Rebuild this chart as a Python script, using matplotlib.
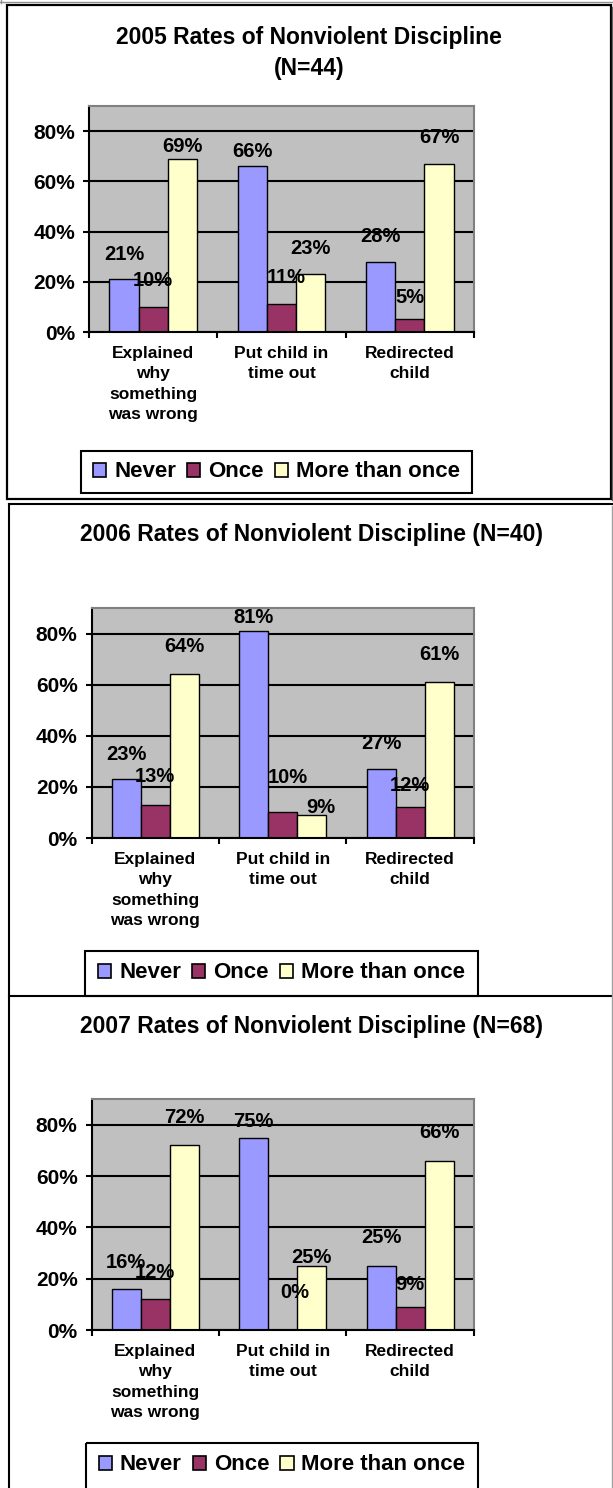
import matplotlib
matplotlib.use("Agg")
import matplotlib.pyplot as plt
from matplotlib.patches import Rectangle, Patch
from matplotlib.lines import Line2D
import numpy as np

plt.rcParams['font.family'] = ['Liberation Sans', 'DejaVu Sans']
plt.rcParams['font.weight'] = 'bold'

# ---------------- data ----------------
categories = ["Explained\nwhy\nsomething\nwas wrong", "Put child in\ntime out", "Redirected\nchild"]
series_names = ["Never", "Once", "More than once"]
titles = ["2005 Rates of Nonviolent Discipline\n(N=44)",
          "2006 Rates of Nonviolent Discipline (N=40)",
          "2007 Rates of Nonviolent Discipline (N=68)"]

never_2005 = [21, 66, 28]
once_2005 = [10, 11, 5]
more_2005 = [69, 23, 67]

never_2006 = [23, 81, 27]
once_2006 = [13, 10, 12]
more_2006 = [64, 9, 61]

never_2007 = [16, 75, 25]
once_2007 = [12, 0, 9]
more_2007 = [72, 25, 66]

ytick_values = [0, 20, 40, 60, 80]

panels_data = [
    [never_2005, once_2005, more_2005],
    [never_2006, once_2006, more_2006],
    [never_2007, once_2007, more_2007],
]

# ---------------- style / layout ----------------
W, H = 613, 1488
colors = ["#9999FF", "#993366", "#FFFFCC"]
plot_face = "#C0C0C0"

# plot rectangles in pixels (x0, y0, x1, y1), y from top
plot_boxes = [(89, 106, 474, 332), (91.5, 608, 474, 838), (91.5, 1099, 474, 1330)]
title_pos = [(309, 53), (312, 534), (312, 1027)]
legend_boxes = [(81, 451, 472, 493), (85, 951, 478, 996), (86, 1443, 478, 1490)]

# label lift above bar top (px) per panel, per series, per category
label_lift = [
    [[24.5, 15, 25], [26, 26.5, 22], [12.5, 26, 26]],
    [[25, 13.5, 26], [28, 35, 22], [28, 8, 28]],
    [[26, 16, 28], [27, 37, 22], [28, 8, 28]],
]
label_shift = [
    [[0, 0, 0], [0, 5, 0], [0, 0, 0]],
    [[0, 0, 0], [0, 5, 0], [0, 9, 0]],
    [[0, 0, 0], [0, 12, 0], [0, 0, 0]],
]

fig = plt.figure(figsize=(W / 100, H / 100), dpi=100)

# overlay for frames
ov = fig.add_axes([0, 0, 1, 1], zorder=-5)
ov.set_xlim(0, W)
ov.set_ylim(H, 0)
ov.axis('off')


def line(x, y, c='black', lw=1.5):
    ov.add_line(Line2D(x, y, color=c, lw=lw, solid_capstyle='projecting'))


# page lines
line([0, W], [2, 2], c='#909090', lw=1)
line([1, 1], [0, 3], c='#909090', lw=1)
# box 1
ov.add_patch(Rectangle((7, 5), 604, 494, fill=False, ec='black', lw=1.6))
line([612, 612], [7, 500], c='#606060', lw=1)
# panel 2 / 3 frames
line([9, W], [504, 504])
line([9, 9], [504, H])
line([9, W], [996, 996])
line([612, 612], [506, H], c='#A0A0A0', lw=1)
for (x0, y0, x1, y1) in legend_boxes:
    ov.add_patch(Rectangle((x0, y0), x1 - x0, y1 - y0, fill=False, ec='black', lw=1.5))

bw = 0.227
x = np.arange(len(categories))
px_per_pt = 100 / 72

for p, data in enumerate(panels_data):
    x0, y0, x1, y1 = plot_boxes[p]
    ax = fig.add_axes([x0 / W, 1 - y1 / H, (x1 - x0) / W, (y1 - y0) / H])
    ax.set_facecolor(plot_face)
    ax.set_axisbelow(True)
    for s, vals in enumerate(data):
        v = np.array(vals) / 100.0
        ax.bar(x + (s - 1) * bw, v, width=bw, color=colors[s], edgecolor='black', lw=1.0, zorder=2)
        for c, val in enumerate(vals):
            ax.annotate(f"{val}%", (x[c] + (s - 1) * bw, val / 100.0),
                        xytext=(label_shift[p][s][c] / px_per_pt, label_lift[p][s][c] / px_per_pt),
                        textcoords='offset points', ha='center', va='center',
                        fontsize=14.5, fontweight='bold', zorder=5, annotation_clip=False)
    ax.set_xlim(-0.5, 2.5)
    ax.set_ylim(0, 0.9)
    ax.set_yticks([t / 100 for t in ytick_values])
    ax.set_yticklabels([f"{t}%" for t in ytick_values], fontsize=15, fontweight='bold')
    ax.yaxis.grid(True, color='black', lw=1.5)
    ax.set_xticks([-0.5, 0.5, 1.5, 2.5])
    ax.set_xticklabels([])
    ax.set_xticks(x, minor=True)
    ax.set_xticklabels(categories, minor=True, fontsize=12.5, fontweight='bold', linespacing=1.45)
    ax.tick_params(axis='x', which='minor', length=0, pad=10)
    ax.tick_params(axis='x', which='major', length=4, width=1.5, direction='out')
    ax.tick_params(axis='y', length=4, width=1.5, direction='out', pad=6)
    for sp in ['left', 'bottom']:
        ax.spines[sp].set_color('black')
        ax.spines[sp].set_linewidth(1.5)
    for sp in ['top', 'right']:
        ax.spines[sp].set_color('#808080')
        ax.spines[sp].set_linewidth(1.5)

    tx, ty = title_pos[p]
    fig.text(tx / W, 1 - ty / H, titles[p], ha='center', va='center', fontsize=16.5,
             fontweight='bold', linespacing=1.45)

    lx0, ly0, lx1, ly1 = legend_boxes[p]
    ly1c = min(ly1, ly0 + 44)
    handles = [Patch(facecolor=colors[i], edgecolor='black', lw=1.2) for i in range(3)]
    fig.legend(handles, series_names, loc='center',
               bbox_to_anchor=((lx0 + lx1) / 2 / W, 1 - (ly0 + ly1c) / 2 / H),
               ncol=3, frameon=False, handlelength=0.6, handleheight=0.6,
               handletextpad=0.35, columnspacing=0.5, borderpad=0.2,
               prop={'weight': 'bold', 'size': 16})

fig.savefig("out.png", dpi=100)
